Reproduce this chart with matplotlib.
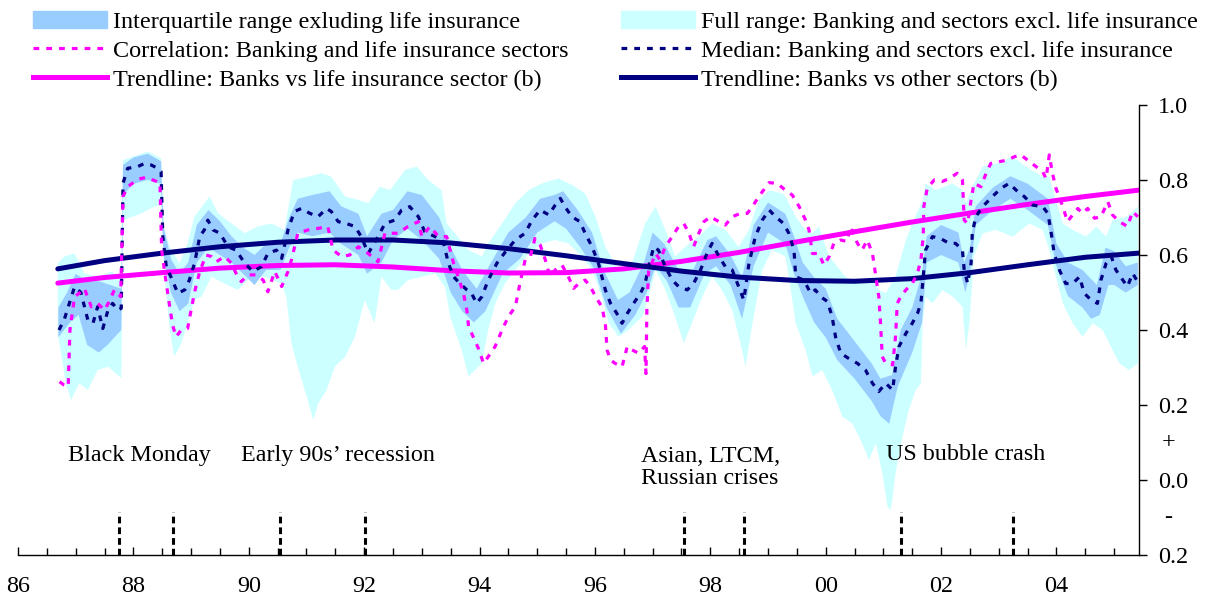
import numpy as np
import matplotlib
matplotlib.use("Agg")
import matplotlib.pyplot as plt
from matplotlib.patches import Patch
from matplotlib.lines import Line2D

plt.rcParams['font.family'] = ['Liberation Serif', 'DejaVu Serif']

# Median: banking and sectors excl. life insurance
median_yr = [1986.71, 1986.80, 1986.98, 1987.09, 1987.21, 1987.30, 1987.38, 1987.47, 1987.56, 1987.64,
             1987.73, 1987.79, 1987.82, 1987.90, 1988.08, 1988.19, 1988.31, 1988.42, 1988.48, 1988.51,
             1988.57, 1988.65, 1988.77, 1988.89, 1988.97, 1989.06, 1989.15, 1989.23, 1989.29, 1989.38,
             1989.50, 1989.64, 1989.78, 1989.93, 1990.07, 1990.22, 1990.33, 1990.48, 1990.57, 1990.68,
             1990.79, 1990.91, 1991.06, 1991.20, 1991.35, 1991.43, 1991.55, 1991.69, 1991.84, 1991.95,
             1992.07, 1992.24, 1992.36, 1992.53, 1992.65, 1992.79, 1992.94, 1993.05, 1993.23, 1993.37,
             1993.46, 1993.55, 1993.66, 1993.78, 1993.86, 1993.95, 1994.04, 1994.15, 1994.30, 1994.47,
             1994.62, 1994.79, 1994.91, 1995.05, 1995.20, 1995.31, 1995.40, 1995.48, 1995.60, 1995.74,
             1995.83, 1995.95, 1996.06, 1996.18, 1996.27, 1996.38, 1996.47, 1996.56, 1996.67, 1996.79,
             1996.87, 1996.93, 1997.02, 1997.10, 1997.22, 1997.34, 1997.45, 1997.60, 1997.71, 1997.83,
             1997.94, 1998.03, 1998.15, 1998.26, 1998.38, 1998.49, 1998.58, 1998.67, 1998.78, 1998.90,
             1999.02, 1999.13, 1999.27, 1999.36, 1999.45, 1999.48, 1999.62, 1999.74, 1999.82, 1999.91,
             2000.03, 2000.11, 2000.17, 2000.26, 2000.40, 2000.55, 2000.69, 2000.81, 2000.92, 2001.04,
             2001.16, 2001.21, 2001.27, 2001.39, 2001.50, 2001.59, 2001.65, 2001.68, 2001.73, 2001.85,
             2001.99, 2002.14, 2002.25, 2002.37, 2002.40, 2002.46, 2002.52, 2002.54, 2002.60, 2002.72,
             2002.89, 2003.04, 2003.18, 2003.30, 2003.44, 2003.59, 2003.76, 2003.85, 2003.90, 2003.96,
             2004.05, 2004.16, 2004.28, 2004.40, 2004.48, 2004.60, 2004.71, 2004.77, 2004.86, 2004.95,
             2005.03, 2005.15, 2005.23, 2005.32, 2005.39]
median_val = [0.400, 0.427, 0.515, 0.500, 0.427, 0.418, 0.462, 0.404, 0.453, 0.471,
              0.453, 0.458, 0.791, 0.831, 0.836, 0.844, 0.840, 0.831, 0.822, 0.649,
              0.569, 0.542, 0.498, 0.507, 0.533, 0.578, 0.649, 0.667, 0.693, 0.667,
              0.658, 0.622, 0.613, 0.578, 0.556, 0.569, 0.604, 0.613, 0.591, 0.667,
              0.716, 0.724, 0.711, 0.702, 0.724, 0.716, 0.689, 0.684, 0.676, 0.649,
              0.604, 0.649, 0.684, 0.693, 0.720, 0.729, 0.702, 0.662, 0.649, 0.636,
              0.578, 0.542, 0.524, 0.507, 0.498, 0.471, 0.489, 0.533, 0.578, 0.613,
              0.640, 0.658, 0.693, 0.720, 0.707, 0.733, 0.751, 0.729, 0.702, 0.689,
              0.658, 0.622, 0.578, 0.507, 0.471, 0.444, 0.418, 0.444, 0.471, 0.498,
              0.524, 0.569, 0.622, 0.613, 0.569, 0.533, 0.516, 0.507, 0.524, 0.560,
              0.604, 0.631, 0.596, 0.569, 0.560, 0.516, 0.480, 0.578, 0.649, 0.693,
              0.720, 0.702, 0.684, 0.658, 0.613, 0.542, 0.533, 0.498, 0.507, 0.489,
              0.476, 0.436, 0.382, 0.338, 0.324, 0.311, 0.293, 0.258, 0.236, 0.258,
              0.240, 0.302, 0.356, 0.391, 0.418, 0.444, 0.471, 0.524, 0.613, 0.649,
              0.644, 0.631, 0.631, 0.613, 0.560, 0.524, 0.578, 0.658, 0.702, 0.729,
              0.756, 0.778, 0.791, 0.773, 0.756, 0.733, 0.729, 0.711, 0.667, 0.604,
              0.560, 0.524, 0.524, 0.542, 0.498, 0.480, 0.471, 0.533, 0.578, 0.596,
              0.560, 0.533, 0.516, 0.551, 0.533]

# Correlation: banking and life insurance sectors
corr_yr = [1986.72, 1986.80, 1986.87, 1986.90, 1986.98, 1987.06, 1987.15, 1987.27, 1987.38, 1987.50,
           1987.58, 1987.67, 1987.78, 1987.82, 1987.90, 1988.08, 1988.22, 1988.37, 1988.46, 1988.49,
           1988.57, 1988.63, 1988.68, 1988.74, 1988.83, 1988.94, 1989.00, 1989.07, 1989.15, 1989.26,
           1989.35, 1989.44, 1989.58, 1989.70, 1989.78, 1989.87, 1989.99, 1990.13, 1990.25, 1990.33,
           1990.45, 1990.57, 1990.68, 1990.74, 1990.85, 1991.03, 1991.20, 1991.37, 1991.46, 1991.61,
           1991.75, 1991.90, 1992.07, 1992.24, 1992.36, 1992.59, 1992.76, 1992.94, 1993.00, 1993.14,
           1993.29, 1993.43, 1993.49, 1993.55, 1993.63, 1993.72, 1993.78, 1993.81, 1993.89, 1993.98,
           1994.07, 1994.15, 1994.27, 1994.39, 1994.50, 1994.62, 1994.70, 1994.79, 1994.88, 1994.96,
           1995.05, 1995.14, 1995.22, 1995.31, 1995.43, 1995.54, 1995.63, 1995.72, 1995.83, 1995.92,
           1996.01, 1996.12, 1996.18, 1996.21, 1996.27, 1996.35, 1996.47, 1996.56, 1996.64, 1996.76,
           1996.86, 1996.885, 1996.90, 1996.93, 1997.05, 1997.13, 1997.22, 1997.34, 1997.45, 1997.54,
           1997.63, 1997.71, 1997.80, 1997.89, 1998.00, 1998.15, 1998.26, 1998.38, 1998.52, 1998.64,
           1998.73, 1998.84, 1999.02, 1999.16, 1999.30, 1999.42, 1999.54, 1999.65, 1999.71, 1999.77,
           1999.88, 1999.97, 2000.06, 2000.14, 2000.26, 2000.37, 2000.43, 2000.55, 2000.63, 2000.72,
           2000.81, 2000.87, 2000.92, 2000.95, 2000.98, 2001.04, 2001.16, 2001.21, 2001.24, 2001.30,
           2001.39, 2001.50, 2001.59, 2001.65, 2001.69, 2001.70, 2001.76, 2001.88, 2002.02, 2002.14,
           2002.28, 2002.37, 2002.40, 2002.46, 2002.52, 2002.57, 2002.69, 2002.78, 2002.86, 2003.01,
           2003.15, 2003.27, 2003.38, 2003.50, 2003.61, 2003.76, 2003.82, 2003.875, 2003.93, 2003.99,
           2004.11, 2004.19, 2004.28, 2004.37, 2004.45, 2004.54, 2004.66, 2004.77, 2004.89, 2004.97,
           2005.09, 2005.23, 2005.32, 2005.41]
corr_val = [0.262, 0.253, 0.249, 0.400, 0.489, 0.498, 0.511, 0.462, 0.471, 0.453,
            0.476, 0.507, 0.489, 0.756, 0.782, 0.802, 0.807, 0.798, 0.793, 0.613,
            0.524, 0.462, 0.413, 0.382, 0.400, 0.404, 0.453, 0.507, 0.556, 0.600,
            0.596, 0.582, 0.596, 0.578, 0.551, 0.529, 0.547, 0.547, 0.533, 0.502,
            0.556, 0.516, 0.556, 0.587, 0.658, 0.667, 0.671, 0.676, 0.613, 0.596,
            0.600, 0.622, 0.604, 0.582, 0.658, 0.658, 0.676, 0.689, 0.649, 0.676,
            0.649, 0.649, 0.613, 0.578, 0.542, 0.498, 0.453, 0.409, 0.382, 0.351,
            0.311, 0.329, 0.356, 0.400, 0.436, 0.462, 0.524, 0.587, 0.596, 0.644,
            0.627, 0.587, 0.542, 0.560, 0.573, 0.542, 0.511, 0.524, 0.533, 0.516,
            0.489, 0.462, 0.418, 0.347, 0.320, 0.311, 0.302, 0.356, 0.347, 0.338,
            0.356, 0.284, 0.453, 0.556, 0.604, 0.587, 0.622, 0.649, 0.676, 0.684,
            0.658, 0.622, 0.658, 0.689, 0.702, 0.689, 0.680, 0.702, 0.711, 0.711,
            0.729, 0.756, 0.793, 0.791, 0.773, 0.760, 0.729, 0.693, 0.667, 0.604,
            0.604, 0.573, 0.596, 0.631, 0.640, 0.636, 0.676, 0.631, 0.613, 0.640,
            0.604, 0.542, 0.489, 0.418, 0.329, 0.311, 0.307, 0.382, 0.471, 0.489,
            0.507, 0.524, 0.551, 0.587, 0.649, 0.729, 0.778, 0.800, 0.796, 0.804,
            0.818, 0.800, 0.693, 0.684, 0.747, 0.791, 0.782, 0.818, 0.844, 0.849,
            0.853, 0.862, 0.867, 0.853, 0.840, 0.822, 0.804, 0.867, 0.818, 0.778,
            0.729, 0.689, 0.707, 0.724, 0.711, 0.724, 0.698, 0.702, 0.742, 0.707,
            0.689, 0.676, 0.716, 0.702]

# Full range (upper / lower edges)
full_hi_yr = [1986.69, 1986.80, 1986.98, 1987.15, 1987.38, 1987.61, 1987.79, 1987.82, 1988.08, 1988.25,
              1988.48, 1988.53, 1988.65, 1988.80, 1988.94, 1989.06, 1989.23, 1989.32, 1989.47, 1989.70,
              1989.93, 1990.16, 1990.39, 1990.62, 1990.77, 1991.03, 1991.26, 1991.43, 1991.67, 1991.90,
              1992.07, 1992.27, 1992.45, 1992.71, 1992.91, 1993.11, 1993.34, 1993.43, 1993.57, 1993.81,
              1994.04, 1994.15, 1994.39, 1994.62, 1994.85, 1995.08, 1995.37, 1995.60, 1995.83, 1996.01,
              1996.18, 1996.41, 1996.64, 1996.87, 1997.05, 1997.22, 1997.39, 1997.57, 1997.80, 1998.03,
              1998.26, 1998.49, 1998.67, 1998.84, 1999.02, 1999.25, 1999.30, 1999.48, 1999.65, 1999.77,
              1999.88, 2000.06, 2000.34, 2000.58, 2000.81, 2000.92, 2001.04, 2001.21, 2001.39, 2001.50,
              2001.68, 2001.73, 2001.91, 2002.20, 2002.37, 2002.43, 2002.54, 2002.72, 2002.95, 2003.24,
              2003.47, 2003.76, 2003.875, 2003.99, 2004.11, 2004.28, 2004.51, 2004.69, 2004.86, 2004.97,
              2005.21, 2005.41]
full_hi_val = [0.578, 0.596, 0.604, 0.551, 0.542, 0.556, 0.542, 0.853, 0.867, 0.876,
               0.858, 0.667, 0.613, 0.578, 0.631, 0.702, 0.738, 0.756, 0.711, 0.684,
               0.658, 0.676, 0.684, 0.667, 0.800, 0.809, 0.818, 0.809, 0.756, 0.747,
               0.738, 0.782, 0.773, 0.827, 0.836, 0.800, 0.773, 0.684, 0.658, 0.613,
               0.596, 0.631, 0.684, 0.738, 0.773, 0.791, 0.804, 0.787, 0.764, 0.702,
               0.622, 0.560, 0.578, 0.684, 0.729, 0.667, 0.596, 0.622, 0.649, 0.684,
               0.667, 0.622, 0.667, 0.747, 0.773, 0.764, 0.756, 0.702, 0.667, 0.658,
               0.676, 0.596, 0.542, 0.524, 0.542, 0.507, 0.498, 0.542, 0.640, 0.684,
               0.747, 0.791, 0.773, 0.791, 0.773, 0.738, 0.782, 0.836, 0.844, 0.862,
               0.836, 0.809, 0.809, 0.747, 0.684, 0.667, 0.649, 0.676, 0.649, 0.693,
               0.702, 0.729]
full_lo_yr = [1986.69, 1986.83, 1986.92, 1987.06, 1987.21, 1987.38, 1987.56, 1987.70, 1987.79, 1987.82,
              1988.08, 1988.37, 1988.48, 1988.54, 1988.63, 1988.71, 1988.83, 1988.94, 1989.06, 1989.18,
              1989.35, 1989.58, 1989.81, 1990.04, 1990.27, 1990.57, 1990.65, 1990.74, 1990.85, 1990.97,
              1991.12, 1991.20, 1991.35, 1991.49, 1991.67, 1991.84, 1992.01, 1992.18, 1992.30, 1992.47,
              1992.59, 1992.76, 1993.00, 1993.23, 1993.40, 1993.49, 1993.57, 1993.69, 1993.81, 1993.92,
              1994.04, 1994.15, 1994.27, 1994.44, 1994.62, 1994.85, 1995.08, 1995.31, 1995.54, 1995.77,
              1995.95, 1996.12, 1996.24, 1996.41, 1996.58, 1996.82, 1996.93, 1997.05, 1997.22, 1997.39,
              1997.54, 1997.68, 1997.86, 1998.03, 1998.20, 1998.38, 1998.55, 1998.61, 1998.73, 1998.90,
              1999.07, 1999.30, 1999.36, 1999.48, 1999.65, 1999.77, 1999.94, 2000.11, 2000.29, 2000.46,
              2000.63, 2000.75, 2000.87, 2000.98, 2001.07, 2001.13, 2001.21, 2001.33, 2001.44, 2001.56,
              2001.65, 2001.68, 2001.73, 2001.85, 2002.02, 2002.20, 2002.37, 2002.43, 2002.49, 2002.57,
              2002.72, 2002.95, 2003.24, 2003.53, 2003.76, 2003.875, 2003.99, 2004.11, 2004.28, 2004.45,
              2004.63, 2004.80, 2004.97, 2005.09, 2005.26, 2005.41]
full_lo_val = [0.391, 0.258, 0.213, 0.258, 0.240, 0.293, 0.302, 0.284, 0.271, 0.693,
               0.707, 0.729, 0.733, 0.542, 0.400, 0.329, 0.364, 0.418, 0.480, 0.489,
               0.542, 0.524, 0.507, 0.542, 0.542, 0.524, 0.489, 0.364, 0.302, 0.240,
               0.160, 0.204, 0.240, 0.302, 0.329, 0.382, 0.480, 0.418, 0.542, 0.507,
               0.507, 0.533, 0.542, 0.551, 0.516, 0.436, 0.400, 0.347, 0.276, 0.293,
               0.311, 0.400, 0.471, 0.524, 0.560, 0.604, 0.631, 0.640, 0.631, 0.596,
               0.560, 0.489, 0.418, 0.382, 0.400, 0.436, 0.489, 0.560, 0.507, 0.436,
               0.364, 0.418, 0.489, 0.542, 0.507, 0.453, 0.347, 0.302, 0.418, 0.560,
               0.613, 0.596, 0.542, 0.418, 0.347, 0.276, 0.293, 0.240, 0.169, 0.151,
               0.098, 0.053, 0.098, 0.018, -0.071, -0.080, 0.018, 0.116, 0.187, 0.240,
               0.258, 0.418, 0.489, 0.471, 0.507, 0.489, 0.462, 0.347, 0.418, 0.596,
               0.658, 0.667, 0.649, 0.684, 0.667, 0.613, 0.542, 0.471, 0.418, 0.382,
               0.418, 0.400, 0.347, 0.311, 0.293, 0.311]

# Interquartile range (upper / lower edges)
iqr_hi_yr = [1986.70, 1986.85, 1987.00, 1987.20, 1987.40, 1987.60, 1987.79, 1987.82, 1988.00, 1988.25,
             1988.48, 1988.52, 1988.65, 1988.80, 1988.95, 1989.10, 1989.30, 1989.50, 1989.70, 1989.90,
             1990.10, 1990.30, 1990.55, 1990.70, 1990.85, 1991.10, 1991.40, 1991.60, 1991.90, 1992.05,
             1992.30, 1992.50, 1992.75, 1993.00, 1993.30, 1993.50, 1993.70, 1993.95, 1994.20, 1994.50,
             1994.80, 1995.05, 1995.30, 1995.45, 1995.70, 1995.95, 1996.15, 1996.40, 1996.60, 1996.85,
             1997.00, 1997.20, 1997.45, 1997.70, 1997.95, 1998.10, 1998.35, 1998.55, 1998.75, 1999.00,
             1999.30, 1999.45, 1999.60, 1999.80, 2000.00, 2000.20, 2000.50, 2000.80, 2000.95, 2001.15,
             2001.30, 2001.50, 2001.67, 2001.75, 2002.00, 2002.30, 2002.40, 2002.50, 2002.60, 2002.90,
             2003.20, 2003.50, 2003.85, 2004.00, 2004.20, 2004.45, 2004.70, 2004.85, 2005.00, 2005.20,
             2005.41]
iqr_hi_val = [0.46, 0.50, 0.55, 0.53, 0.53, 0.52, 0.51, 0.84, 0.86, 0.87,
              0.85, 0.68, 0.59, 0.55, 0.58, 0.68, 0.72, 0.69, 0.65, 0.62,
              0.60, 0.63, 0.63, 0.70, 0.75, 0.76, 0.77, 0.73, 0.71, 0.65,
              0.71, 0.72, 0.77, 0.76, 0.70, 0.62, 0.56, 0.51, 0.58, 0.66,
              0.70, 0.75, 0.76, 0.77, 0.72, 0.66, 0.56, 0.48, 0.50, 0.58,
              0.66, 0.63, 0.56, 0.56, 0.64, 0.65, 0.60, 0.54, 0.68, 0.74,
              0.71, 0.65, 0.58, 0.54, 0.51, 0.43, 0.37, 0.31, 0.27, 0.28,
              0.40, 0.46, 0.55, 0.65, 0.68, 0.66, 0.58, 0.62, 0.73, 0.78,
              0.81, 0.79, 0.75, 0.63, 0.58, 0.56, 0.52, 0.62, 0.61, 0.57,
              0.58]
iqr_lo_yr = [1986.70, 1986.90, 1987.05, 1987.20, 1987.40, 1987.55, 1987.79, 1987.82, 1988.00, 1988.25,
             1988.48, 1988.52, 1988.65, 1988.80, 1988.95, 1989.10, 1989.30, 1989.50, 1989.70, 1989.90,
             1990.10, 1990.30, 1990.55, 1990.70, 1990.85, 1991.10, 1991.40, 1991.60, 1991.90, 1992.05,
             1992.30, 1992.50, 1992.75, 1993.00, 1993.30, 1993.50, 1993.70, 1993.90, 1994.10, 1994.40,
             1994.70, 1995.00, 1995.30, 1995.50, 1995.75, 1996.00, 1996.20, 1996.45, 1996.70, 1996.90,
             1997.05, 1997.25, 1997.45, 1997.65, 1997.90, 1998.10, 1998.35, 1998.55, 1998.75, 1999.00,
             1999.30, 1999.45, 1999.60, 1999.80, 2000.00, 2000.20, 2000.50, 2000.80, 2000.95, 2001.10,
             2001.25, 2001.50, 2001.67, 2001.75, 2002.00, 2002.30, 2002.42, 2002.50, 2002.60, 2002.90,
             2003.20, 2003.50, 2003.85, 2004.00, 2004.20, 2004.45, 2004.60, 2004.75, 2004.90, 2005.00,
             2005.20, 2005.41]
iqr_lo_val = [0.38, 0.42, 0.44, 0.36, 0.34, 0.36, 0.40, 0.76, 0.79, 0.80,
              0.79, 0.60, 0.50, 0.45, 0.47, 0.58, 0.62, 0.60, 0.58, 0.55,
              0.52, 0.56, 0.56, 0.62, 0.66, 0.65, 0.66, 0.63, 0.60, 0.55,
              0.58, 0.64, 0.67, 0.64, 0.59, 0.50, 0.45, 0.42, 0.45, 0.55,
              0.59, 0.66, 0.69, 0.67, 0.62, 0.56, 0.46, 0.39, 0.44, 0.50,
              0.57, 0.53, 0.46, 0.46, 0.55, 0.57, 0.52, 0.43, 0.57, 0.66,
              0.63, 0.55, 0.49, 0.42, 0.38, 0.32, 0.27, 0.21, 0.17, 0.15,
              0.25, 0.34, 0.42, 0.58, 0.60, 0.58, 0.50, 0.55, 0.68, 0.72,
              0.75, 0.72, 0.68, 0.57, 0.49, 0.46, 0.43, 0.44, 0.52, 0.52,
              0.50, 0.52]

# Trendlines
trend_yr = [1986.69, 1987.5, 1988.5, 1989.5, 1990.5, 1991.5, 1992.5, 1993.5, 1994.5, 1995.5,
            1996.5, 1997.5, 1998.5, 1999.5, 2000.5, 2001.5, 2002.5, 2003.5, 2004.5, 2005.43]
trend_life = [0.525, 0.540, 0.553, 0.565, 0.572, 0.574, 0.568, 0.558, 0.552, 0.553,
              0.563, 0.583, 0.607, 0.635, 0.662, 0.688, 0.712, 0.735, 0.756, 0.773]
trend_other = [0.563, 0.585, 0.605, 0.622, 0.634, 0.640, 0.640, 0.632, 0.617, 0.598,
               0.577, 0.557, 0.541, 0.532, 0.530, 0.537, 0.553, 0.574, 0.594, 0.605]

# Crisis markers and labels
event_years = [1987.75, 1988.68, 1990.54, 1992.02, 1997.55, 1998.58, 2001.31, 2003.24]
event_labels = ["Black Monday", "Early 90s\u2019 recession", "Asian, LTCM,", "Russian crises", "US bubble crash"]
label_x = [1986.86, 1989.86, 1996.79, 1996.79, 2001.04]
label_y = [0.064, 0.064, 0.064, 0.005, 0.067]

year_ticks = [1986, 1988, 1990, 1992, 1994, 1996, 1998, 2000, 2002, 2004]
year_labels = ["86", "88", "90", "92", "94", "96", "98", "00", "02", "04"]
y_ticks = [-0.2, 0.0, 0.2, 0.4, 0.6, 0.8, 1.0]
y_labels = ["0.2", "0.0", "0.2", "0.4", "0.6", "0.8", "1.0"]

c_iqr = '#99CCFF'
c_full = '#CCFFFF'
c_mag = '#FF00FF'
c_navy = '#000080'
fs = 17.4
dots = (0, (1.8, 2.2))

fig = plt.figure(figsize=(12.07, 6.06), dpi=100)
ax = fig.add_axes([18 / 1207, 1 - 555 / 606, (1139 - 18) / 1207, 450 / 606])

ax.fill(np.r_[full_hi_yr, full_lo_yr[::-1]], np.r_[full_hi_val, full_lo_val[::-1]],
        color=c_full, lw=0)
ax.fill(np.r_[iqr_hi_yr, iqr_lo_yr[::-1]], np.r_[iqr_hi_val, iqr_lo_val[::-1]],
        color=c_iqr, lw=0)

ax.plot(trend_yr, trend_life, color=c_mag, lw=3.6, solid_capstyle='round')
ax.plot(trend_yr, trend_other, color=c_navy, lw=3.6, solid_capstyle='round')
ax.plot(median_yr, median_val, color=c_navy, lw=2.3, linestyle=dots)
ax.plot(corr_yr, corr_val, color=c_mag, lw=2.3, linestyle=dots)

ax.vlines(event_years, -0.2, -0.085, colors='black', lw=2.2, linestyles=(0, (2.2, 1.3)))

for t, x, y in zip(event_labels, label_x, label_y):
    ax.text(x, y, t, fontsize=fs, ha='left', va='center')

ax.set_xlim(1986, 2005.43)
ax.set_ylim(-0.2, 1.0)
for s in ['left', 'top']:
    ax.spines[s].set_visible(False)
ax.spines['bottom'].set_linewidth(1.0)
ax.spines['right'].set_linewidth(1.0)

ax.yaxis.tick_right()
ax.set_yticks(y_ticks)
ax.set_yticklabels(y_labels)
ax.tick_params(axis='y', direction='out', length=5.5, width=1, labelsize=fs, pad=8)
ax.text(1.02, 0.1, "+", transform=ax.get_yaxis_transform(), fontsize=fs, va='center', ha='left')
ax.text(1.022, -0.1, "-", transform=ax.get_yaxis_transform(), fontsize=fs, va='center', ha='left')

ax.set_xticks(year_ticks)
ax.set_xticklabels(year_labels)
ax.set_xticks(np.arange(1986, 2005.4, 0.5), minor=True)
ax.tick_params(axis='x', which='major', direction='in', length=6, width=1, labelsize=fs, pad=15)
ax.tick_params(axis='x', which='minor', direction='in', length=5, width=1)

handles = [Patch(color=c_iqr), Line2D([], [], color=c_mag, lw=2.3, linestyle=dots),
           Line2D([], [], color=c_mag, lw=3.6),
           Patch(color=c_full), Line2D([], [], color=c_navy, lw=2.3, linestyle=dots),
           Line2D([], [], color=c_navy, lw=3.6)]
labels = ["Interquartile range exluding life insurance",
          "Correlation: Banking and life insurance sectors",
          "Trendline: Banks vs life insurance sector (b)",
          "Full range: Banking and sectors excl. life insurance",
          "Median: Banking and sectors excl. life insurance",
          "Trendline: Banks vs other sectors (b)"]
fig.legend(handles, labels, loc='upper left', bbox_to_anchor=(33 / 1207, 1 - 11 / 606), ncol=2,
           frameon=False, fontsize=fs, borderpad=0, borderaxespad=0, handlelength=3.05,
           handletextpad=0.25, columnspacing=2.2, labelspacing=0.29)

fig.savefig("out.png", dpi=100)
